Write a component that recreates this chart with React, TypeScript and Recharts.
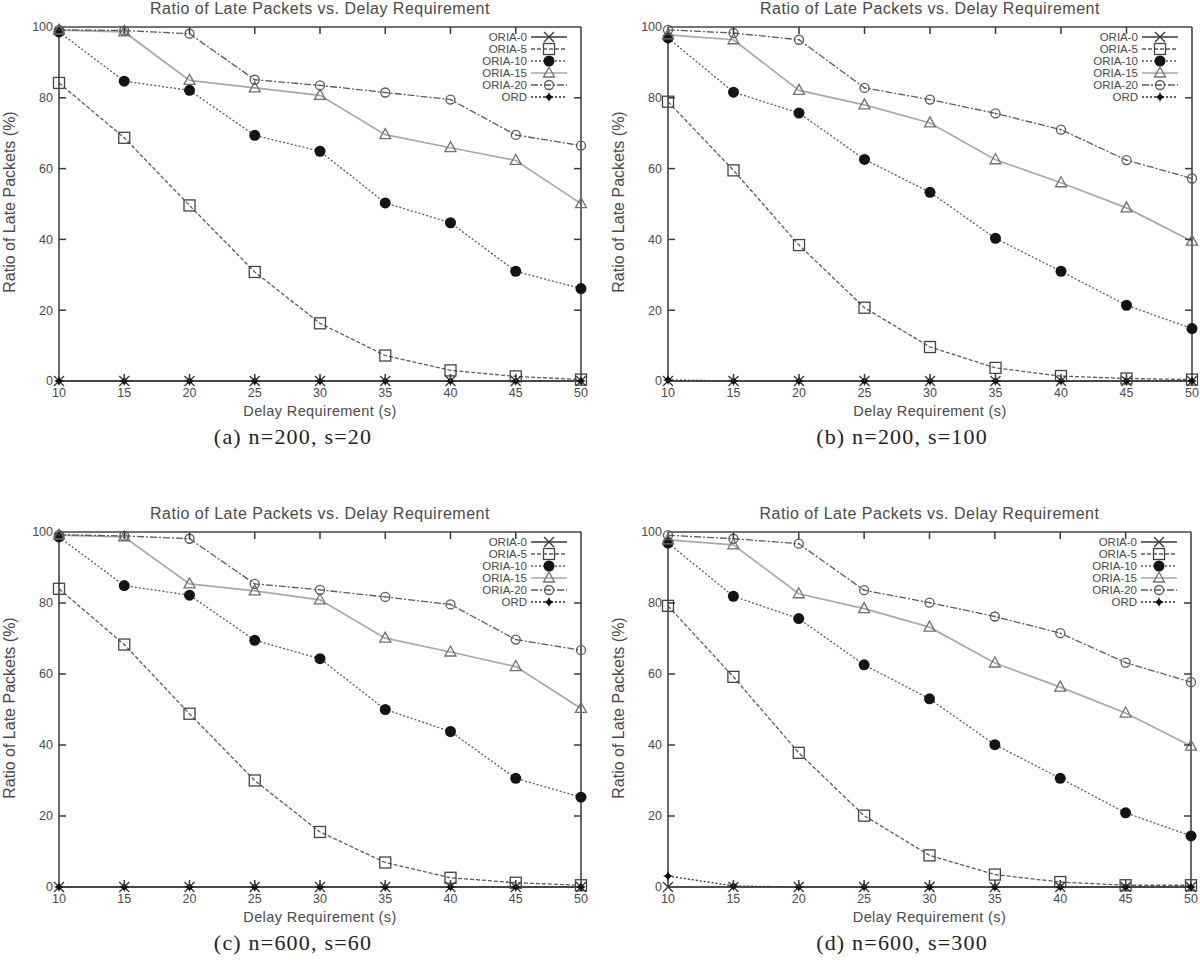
import React from 'react';
import { LineChart, Line, XAxis, YAxis } from 'recharts';

const delays = [10, 15, 20, 25, 30, 35, 40, 45, 50];
const yTicks = [0, 20, 40, 60, 80, 100];
const seriesNames = ['ORIA-0', 'ORIA-5', 'ORIA-10', 'ORIA-15', 'ORIA-20', 'ORD'];
const chartTitle = 'Ratio of Late Packets vs. Delay Requirement';
const xLabel = 'Delay Requirement (s)';
const yLabel = 'Ratio of Late Packets (%)';
const captions = ['(a) n=200, s=20', '(b) n=200, s=100', '(c) n=600, s=60', '(d) n=600, s=300'];

// (a) n=200, s=20
const aOria0 = [0, 0, 0, 0, 0, 0, 0, 0, 0];
const aOria5 = [84.2, 68.7, 49.6, 30.8, 16.3, 7.2, 3.0, 1.3, 0.4];
const aOria10 = [98.6, 84.7, 82.1, 69.4, 64.9, 50.3, 44.7, 31.0, 26.1];
const aOria15 = [99.1, 98.6, 84.9, 82.8, 80.7, 69.6, 65.9, 62.3, 50.1];
const aOria20 = [99.2, 99.0, 98.1, 85.1, 83.5, 81.5, 79.5, 69.5, 66.5];
const aOrd = [0, 0, 0, 0, 0, 0, 0, 0, 0];

// (b) n=200, s=100
const bOria0 = [0, 0, 0, 0, 0, 0, 0, 0, 0];
const bOria5 = [78.9, 59.5, 38.4, 20.7, 9.6, 3.7, 1.4, 0.7, 0.4];
const bOria10 = [96.9, 81.6, 75.7, 62.6, 53.3, 40.3, 31.0, 21.4, 14.8];
const bOria15 = [97.8, 96.4, 82.1, 78.0, 72.9, 62.5, 56.0, 48.9, 39.5];
const bOria20 = [99.2, 98.3, 96.4, 82.8, 79.5, 75.6, 71.0, 62.4, 57.2];
const bOrd = [0.3, 0, 0, 0, 0, 0, 0, 0, 0];

// (c) n=600, s=60
const cOria0 = [0, 0, 0, 0, 0, 0, 0, 0, 0];
const cOria5 = [84.0, 68.3, 48.8, 30.0, 15.5, 6.9, 2.6, 1.2, 0.5];
const cOria10 = [98.6, 84.9, 82.2, 69.5, 64.3, 50.0, 43.8, 30.6, 25.3];
const cOria15 = [99.1, 98.6, 85.4, 83.4, 80.9, 70.1, 66.2, 62.1, 50.3];
const cOria20 = [99.2, 98.9, 98.1, 85.4, 83.7, 81.7, 79.6, 69.7, 66.7];
const cOrd = [0, 0, 0, 0, 0, 0, 0, 0, 0];

// (d) n=600, s=300
const dOria0 = [0, 0, 0, 0, 0, 0, 0, 0, 0];
const dOria5 = [79.2, 59.2, 37.8, 20.1, 8.9, 3.5, 1.4, 0.5, 0.5];
const dOria10 = [96.9, 81.9, 75.6, 62.6, 53.0, 40.1, 30.6, 20.9, 14.4];
const dOria15 = [97.8, 96.4, 82.6, 78.4, 73.2, 63.1, 56.3, 49.0, 39.7];
const dOria20 = [99.1, 98.1, 96.7, 83.6, 80.1, 76.2, 71.5, 63.2, 57.7];
const dOrd = [3.1, 0.3, 0, 0, 0, 0, 0, 0, 0];

const panelSeries = [
  [aOria0, aOria5, aOria10, aOria15, aOria20, aOrd],
  [bOria0, bOria5, bOria10, bOria15, bOria20, bOrd],
  [cOria0, cOria5, cOria10, cOria15, cOria20, cOrd],
  [dOria0, dOria5, dOria10, dOria15, dOria20, dOrd],
];

const SANS = '"Liberation Sans", Arial, sans-serif';
const SERIF = '"Liberation Serif", "Times New Roman", serif';
const TEXT = '#4a4a4a';
const AXIS = '#444444';
const TICK_COLOR = '#3a3a3a';

type Style = { stroke: string; width: number; dash?: string; marker: string };
const lineStyles: Style[] = [
  { stroke: '#3a3a3a', width: 1.5, marker: 'cross' },
  { stroke: '#5c5c5c', width: 1.3, dash: '4 2', marker: 'square' },
  { stroke: '#5c5c5c', width: 1.3, dash: '2 2', marker: 'disc' },
  { stroke: '#a9a9a9', width: 1.7, marker: 'triangle' },
  { stroke: '#5c5c5c', width: 1.3, dash: '7 2 2 2', marker: 'circle' },
  { stroke: '#2e2e2e', width: 1.3, dash: '2 2', marker: 'star' },
];

function marker(kind: string, cx: number, cy: number, key?: string) {
  if (cx == null || cy == null || isNaN(cx) || isNaN(cy)) return <g key={key} />;
  switch (kind) {
    case 'cross':
      return (
        <g key={key} stroke="#333" strokeWidth={1.3}>
          <line x1={cx - 5} y1={cy - 5} x2={cx + 5} y2={cy + 5} />
          <line x1={cx - 5} y1={cy + 5} x2={cx + 5} y2={cy - 5} />
        </g>
      );
    case 'square':
      return <rect key={key} x={cx - 5.5} y={cy - 5.5} width={11} height={11} fill="none" stroke="#444" strokeWidth={1.3} />;
    case 'disc':
      return <circle key={key} cx={cx} cy={cy} r={5.5} fill="#141414" />;
    case 'triangle':
      return (
        <polygon key={key} points={`${cx},${cy - 6} ${cx - 5.5},${cy + 4} ${cx + 5.5},${cy + 4}`} fill="none" stroke="#707070" strokeWidth={1.3} />
      );
    case 'circle':
      return (
        <g key={key}>
          <circle cx={cx} cy={cy} r={4.5} fill="none" stroke="#5a5a5a" strokeWidth={1.3} />
          <circle cx={cx} cy={cy} r={0.8} fill="#5a5a5a" />
        </g>
      );
    case 'star':
    default:
      return (
        <g key={key}>
          <path d={`M${cx},${cy - 5} L${cx + 2},${cy} L${cx},${cy + 5} L${cx - 2},${cy} Z`} fill="#111" />
          <path d={`M${cx - 5},${cy} L${cx},${cy - 2} L${cx + 5},${cy} L${cx},${cy + 2} Z`} fill="#111" />
          <circle cx={cx} cy={cy} r={2.6} fill="#111" />
        </g>
      );
  }
}

const CHART_W = 600;
const CHART_H = 460;
const Y_W = 59;
const X_H = 50;
const TICK_PX = 7;
const X_MIN = 10;
const X_MAX = 50;
const Y_MIN = 0;
const Y_MAX = 100;

const panels = [
  { left: 0, top: 0, mr: 18, mb: 29 },
  { left: 609, top: 0, mr: 16, mb: 29 },
  { left: 0, top: 505, mr: 18, mb: 28 },
  { left: 609, top: 505, mr: 17, mb: 28 },
];

function Panel({ idx }: { idx: number }) {
  const p = panels[idx];
  const series = panelSeries[idx];
  const data = delays.map((d, i) => {
    const row: Record<string, number> = { delay: d };
    seriesNames.forEach((n, s) => {
      row[n] = series[s][i];
    });
    return row;
  });
  const plotLeft = Y_W;
  const plotTop = 27;
  const plotRight = CHART_W - p.mr - 1;
  const plotBottom = CHART_H - p.mb - X_H;
  const plotW = plotRight - plotLeft;
  const plotH = plotBottom - plotTop;
  const plotMidY = (plotTop + plotBottom) / 2;
  const tickX = (v: number) => plotLeft + ((v - X_MIN) / (X_MAX - X_MIN)) * plotW;
  const tickY = (v: number) => plotBottom - ((v - Y_MIN) / (Y_MAX - Y_MIN)) * plotH;

  return (
    <div style={{ position: 'absolute', left: p.left, top: p.top, width: CHART_W, height: CHART_H }}>
      <div
        style={{
          position: 'absolute',
          left: plotLeft,
          width: plotW,
          top: plotTop - 27,
          textAlign: 'center',
          fontFamily: SANS,
          fontSize: 16,
          lineHeight: '17px',
          letterSpacing: 0.5,
          color: TEXT,
          whiteSpace: 'nowrap',
        }}
      >
        {chartTitle}
      </div>
      <LineChart
        width={CHART_W}
        height={CHART_H}
        data={data}
        margin={{ top: plotTop - 1, right: p.mr, bottom: p.mb, left: 0 }}
      >
        <XAxis
          dataKey="delay"
          type="number"
          domain={[X_MIN, X_MAX]}
          ticks={delays}
          height={X_H}
          tickLine={false}
          tickSize={6}
          tickMargin={1}
          stroke={AXIS}
          strokeWidth={1.6}
          tick={{ fill: TEXT, fontSize: 12.5, fontFamily: SANS }}
          label={{ value: xLabel, position: 'insideBottom', offset: 15, fill: TEXT, fontSize: 14.5, fontFamily: SANS, letterSpacing: 0.4 }}
        />
        <XAxis
          xAxisId="top"
          orientation="top"
          type="number"
          domain={[X_MIN, X_MAX]}
          ticks={delays}
          height={1}
          tickLine={false}
          tick={false}
          stroke={AXIS}
          strokeWidth={1.6}
        />
        <YAxis
          type="number"
          domain={[Y_MIN, Y_MAX]}
          ticks={yTicks}
          width={Y_W}
          tickLine={false}
          tickSize={6}
          tickMargin={0}
          stroke={AXIS}
          strokeWidth={1.6}
          tick={{ fill: TEXT, fontSize: 12.5, fontFamily: SANS }}
        />
        <YAxis
          yAxisId="right"
          orientation="right"
          type="number"
          domain={[Y_MIN, Y_MAX]}
          ticks={yTicks}
          width={1}
          tickLine={false}
          tick={false}
          stroke={AXIS}
          strokeWidth={1.6}
        />
        {seriesNames.map((name, s) => {
          const st = lineStyles[s];
          return (
            <Line
              key={name}
              dataKey={name}
              type="linear"
              stroke={st.stroke}
              strokeWidth={st.width}
              strokeDasharray={st.dash}
              isAnimationActive={false}
              activeDot={false}
              dot={(props: any) => marker(st.marker, props.cx, props.cy, `${name}-${props.index}`)}
            />
          );
        })}
      </LineChart>
      {/* inward frame tick marks (gnuplot style) */}
      <svg
        width={CHART_W}
        height={CHART_H}
        style={{ position: 'absolute', left: 0, top: 0, pointerEvents: 'none', overflow: 'visible' }}
      >
        <g stroke={TICK_COLOR} strokeWidth={1.5}>
          {yTicks.slice(1, -1).map((v) => (
            <g key={`y-${v}`}>
              <line x1={plotLeft} x2={plotLeft + TICK_PX} y1={tickY(v)} y2={tickY(v)} />
              <line x1={plotRight - TICK_PX} x2={plotRight} y1={tickY(v)} y2={tickY(v)} />
            </g>
          ))}
          {delays.slice(1, -1).map((v) => (
            <g key={`x-${v}`}>
              <line x1={tickX(v)} x2={tickX(v)} y1={plotBottom} y2={plotBottom - TICK_PX} />
              <line x1={tickX(v)} x2={tickX(v)} y1={plotTop} y2={plotTop + TICK_PX} />
            </g>
          ))}
        </g>
      </svg>
      <div
        style={{
          position: 'absolute',
          left: 10,
          top: plotMidY - 2,
          transform: 'translate(-50%, -50%) rotate(-90deg)',
          fontFamily: SANS,
          fontSize: 16,
          color: TEXT,
          whiteSpace: 'nowrap',
          lineHeight: '18px',
        }}
      >
        {yLabel}
      </div>
      <div
        style={{
          position: 'absolute',
          right: CHART_W - (plotRight - 14),
          top: plotTop + 4,
        }}
      >
        {seriesNames.map((name, s) => {
          const st = lineStyles[s];
          return (
            <div key={name} style={{ display: 'flex', alignItems: 'center', justifyContent: 'flex-end', height: 12 }}>
              <span style={{ fontFamily: SANS, fontSize: 11.5, lineHeight: '12px', color: TEXT, marginRight: 4 }}>{name}</span>
              <svg width={36} height={12} style={{ display: 'block', overflow: 'visible' }}>
                <line x1={0} y1={6} x2={36} y2={6} stroke={st.stroke} strokeWidth={st.width} strokeDasharray={st.dash} />
                {marker(st.marker, 18, 6)}
              </svg>
            </div>
          );
        })}
      </div>
      <div
        style={{
          position: 'absolute',
          left: plotLeft + 234,
          top: plotBottom + 56,
          transform: 'translate(-50%, -50%)',
          fontFamily: SERIF,
          fontSize: 22,
          letterSpacing: 1.2,
          color: '#222',
          whiteSpace: 'nowrap',
          lineHeight: '24px',
        }}
      >
        {captions[idx]}
      </div>
    </div>
  );
}

export default function App() {
  return (
    <div style={{ position: 'absolute', left: 0, top: 0, width: 1200, height: 964, background: '#fff', overflow: 'hidden' }}>
      {[0, 1, 2, 3].map((i) => (
        <Panel key={i} idx={i} />
      ))}
    </div>
  );
}
